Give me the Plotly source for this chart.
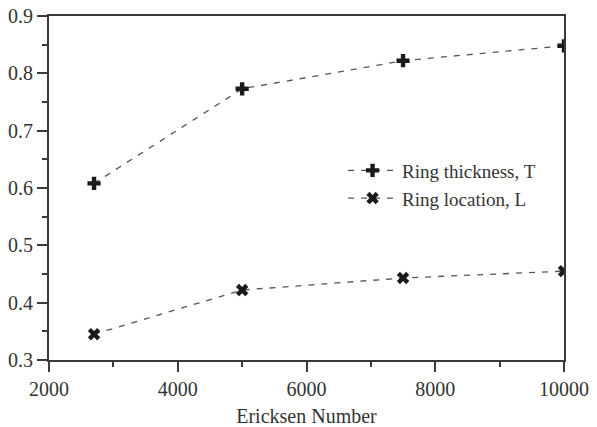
import plotly.graph_objects as go

ericksen = [2700, 5000, 7500, 10000]
ring_thickness = [0.608, 0.773, 0.822, 0.848]
ring_location = [0.345, 0.422, 0.443, 0.455]

x_ticks = [2000, 4000, 6000, 8000, 10000]
y_ticks = [0.3, 0.4, 0.5, 0.6, 0.7, 0.8, 0.9]

FONT = "Liberation Serif"
AX = "#3a3a3a"
TXT = "#333333"

fig = go.Figure()
fig.add_trace(go.Scatter(
    x=ericksen, y=ring_thickness, mode="lines+markers", name="Ring thickness, T",
    line=dict(color="#555555", width=1.3, dash="6px,7px"),
    marker=dict(symbol="cross", size=11, color="#1a1a1a"),
))
fig.add_trace(go.Scatter(
    x=ericksen, y=ring_location, mode="lines+markers", name="Ring location, L",
    line=dict(color="#555555", width=1.3, dash="6px,7px"),
    marker=dict(symbol="x", size=11, color="#1a1a1a"),
))

axis_common = dict(
    showline=True, linecolor=AX, linewidth=2, mirror=True,
    ticks="outside", tickcolor=AX, tickwidth=2, ticklen=10,
    showgrid=False, zeroline=False, automargin=False,
    tickfont=dict(family=FONT, size=20, color=TXT),
)
fig.update_xaxes(
    range=[2000, 10000], tickvals=x_ticks, ticktext=[str(v) for v in x_ticks],
    minor=dict(ticks="outside", ticklen=5, tickwidth=2, tickcolor=AX, dtick=1000, showgrid=False),
    title=dict(text="Ericksen Number", font=dict(family=FONT, size=20, color=TXT), standoff=11),
    **axis_common,
)
fig.update_yaxes(
    range=[0.3, 0.9], tickvals=y_ticks, ticktext=[f"{v:.1f}" for v in y_ticks],
    minor=dict(ticks="outside", ticklen=5, tickwidth=2, tickcolor=AX, dtick=0.05, showgrid=False),
    **axis_common,
)
fig.update_layout(
    width=597, height=427, autosize=False,
    margin=dict(l=49, r=33, t=16, b=67, pad=0, autoexpand=False),
    paper_bgcolor="white", plot_bgcolor="white",
    font=dict(family=FONT, color=TXT),
    legend=dict(x=0.571, y=0.606, xanchor="left", yanchor="top",
                bgcolor="rgba(0,0,0,0)", font=dict(family=FONT, size=19, color=TXT),
                itemwidth=49, tracegroupgap=0),
)
fig.write_html("out.html", config={"displayModeBar": False},
               post_script="document.body.style.margin='0';")
